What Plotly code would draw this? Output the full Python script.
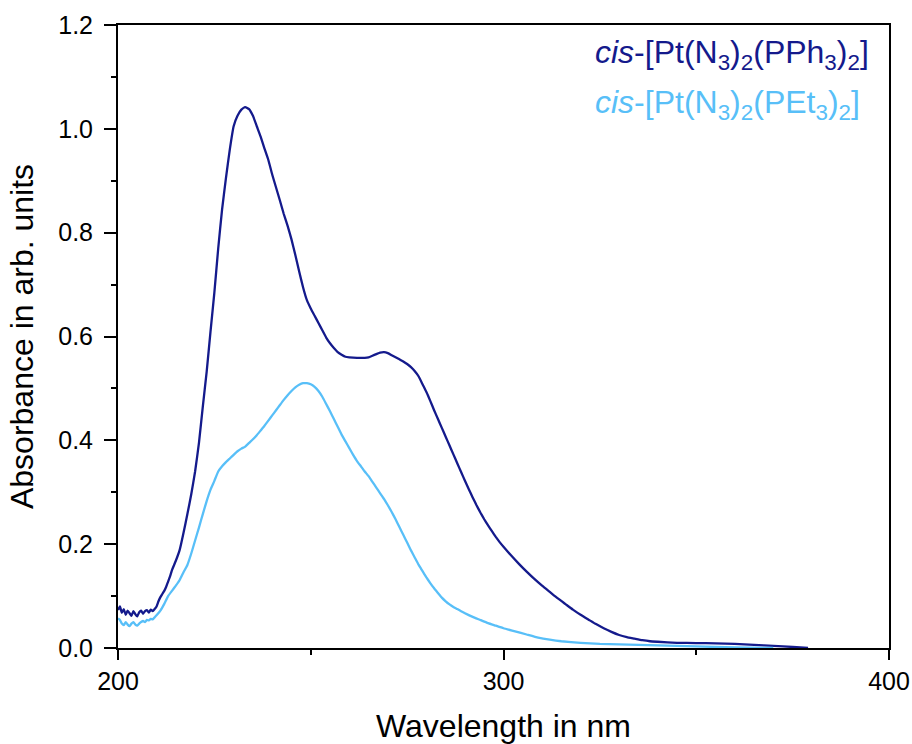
import plotly.graph_objects as go

# Wavelength (nm) and absorbance for cis-[Pt(N3)2(PPh3)2]
wl_pph3 = [200.0, 200.5, 201.0, 201.5, 202.0, 202.5, 203.0, 203.5, 204.0, 204.5,
           205.0, 205.5, 206.0, 206.5, 207.0, 207.5, 208.0, 208.5, 209.0, 209.5,
           210.0, 210.5, 211.0, 211.5, 212.0, 212.5, 213.0, 213.5, 214.0, 215.0,
           216.0, 217.0, 218.0, 219.0, 220.0, 221.0, 222.0, 223.0, 224.0, 225.0,
           226.0, 227.0, 228.0, 229.0, 230.0, 231.0, 232.0, 233.0, 234.0, 235.0,
           236.0, 237.0, 238.0, 239.0, 240.0, 241.0, 242.0, 243.0, 244.0, 245.0,
           246.0, 247.0, 248.0, 249.0, 250.0, 251.0, 252.0, 253.0, 254.0, 255.0,
           256.0, 257.0, 258.0, 259.0, 260.0, 262.0, 264.0, 265.0, 266.0, 267.0,
           268.0, 269.0, 270.0, 271.0, 272.0, 273.0, 274.0, 275.0, 276.0, 277.0,
           278.0, 279.0, 280.0, 281.0, 282.0, 283.0, 284.0, 285.0, 286.0, 287.0,
           288.0, 289.0, 290.0, 291.0, 292.0, 293.0, 294.0, 295.0, 296.0, 297.0,
           298.0, 299.0, 300.0, 302.0, 304.0, 306.0, 308.0, 310.0, 312.0, 314.0,
           316.0, 318.0, 320.0, 322.0, 324.0, 326.0, 328.0, 330.0, 332.0, 334.0,
           336.0, 338.0, 340.0, 345.0, 350.0, 355.0, 360.0, 365.0, 370.0, 375.0,
           379.0]
abs_pph3 = [0.073, 0.080, 0.068, 0.075, 0.064, 0.072, 0.067, 0.062, 0.071, 0.065,
            0.061, 0.069, 0.072, 0.066, 0.071, 0.073, 0.068, 0.074, 0.071, 0.075,
            0.080, 0.090, 0.098, 0.104, 0.110, 0.118, 0.128, 0.138, 0.150, 0.168,
            0.189, 0.222, 0.258, 0.296, 0.340, 0.395, 0.465, 0.532, 0.610, 0.685,
            0.770, 0.845, 0.905, 0.960, 1.005, 1.025, 1.037, 1.042, 1.038, 1.025,
            1.005, 0.985, 0.962, 0.940, 0.912, 0.887, 0.862, 0.836, 0.813, 0.787,
            0.757, 0.725, 0.695, 0.670, 0.654, 0.640, 0.626, 0.612, 0.598, 0.587,
            0.578, 0.570, 0.565, 0.561, 0.560, 0.559, 0.559, 0.560, 0.563, 0.566,
            0.569, 0.570, 0.568, 0.564, 0.560, 0.556, 0.552, 0.547, 0.541, 0.533,
            0.523, 0.508, 0.493, 0.476, 0.458, 0.441, 0.424, 0.407, 0.390, 0.373,
            0.356, 0.339, 0.322, 0.306, 0.290, 0.275, 0.261, 0.248, 0.236, 0.225,
            0.214, 0.204, 0.195, 0.178, 0.162, 0.147, 0.133, 0.120, 0.108, 0.096,
            0.085, 0.074, 0.064, 0.055, 0.046, 0.038, 0.031, 0.025, 0.021, 0.018,
            0.015, 0.013, 0.012, 0.010, 0.0095, 0.009, 0.008, 0.006, 0.004, 0.002,
            0.000]

# Wavelength (nm) and absorbance for cis-[Pt(N3)2(PEt3)2]
wl_pet3 = [200.0, 200.5, 201.0, 201.5, 202.0, 202.5, 203.0, 203.5, 204.0, 204.5,
           205.0, 205.5, 206.0, 206.5, 207.0, 207.5, 208.0, 208.5, 209.0, 209.5,
           210.0, 211.0, 212.0, 213.0, 214.0, 215.0, 216.0, 217.0, 218.0, 219.0,
           220.0, 221.0, 222.0, 223.0, 224.0, 225.0, 226.0, 227.0, 228.0, 229.0,
           230.0, 231.0, 232.0, 233.0, 234.0, 235.0, 236.0, 237.0, 238.0, 239.0,
           240.0, 241.0, 242.0, 243.0, 244.0, 245.0, 246.0, 247.0, 248.0, 249.0,
           250.0, 251.0, 252.0, 253.0, 254.0, 255.0, 256.0, 257.0, 258.0, 259.0,
           260.0, 261.0, 262.0, 263.0, 264.0, 265.0, 266.0, 267.0, 268.0, 269.0,
           270.0, 271.0, 272.0, 273.0, 274.0, 275.0, 276.0, 277.0, 278.0, 279.0,
           280.0, 281.0, 282.0, 283.0, 284.0, 285.0, 286.0, 287.0, 288.0, 289.0,
           290.0, 292.0, 294.0, 296.0, 298.0, 300.0, 303.0, 306.0, 309.0, 312.0,
           315.0, 320.0, 325.0, 330.0, 335.0, 340.0, 345.0, 350.0, 360.0, 370.0]
abs_pet3 = [0.057, 0.054, 0.047, 0.044, 0.050, 0.045, 0.042, 0.047, 0.050, 0.045,
            0.043, 0.047, 0.050, 0.052, 0.050, 0.054, 0.053, 0.056, 0.055, 0.059,
            0.063, 0.072, 0.085, 0.100, 0.110, 0.120, 0.131, 0.146, 0.160, 0.182,
            0.207, 0.232, 0.258, 0.283, 0.305, 0.322, 0.340, 0.350, 0.358, 0.365,
            0.372, 0.379, 0.384, 0.388, 0.395, 0.402, 0.410, 0.419, 0.428, 0.438,
            0.448, 0.458, 0.468, 0.478, 0.487, 0.495, 0.502, 0.507, 0.510, 0.510,
            0.508, 0.503, 0.495, 0.484, 0.470, 0.456, 0.441, 0.426, 0.411, 0.398,
            0.385, 0.372, 0.360, 0.350, 0.340, 0.331, 0.320, 0.309, 0.298, 0.287,
            0.275, 0.262, 0.248, 0.233, 0.218, 0.203, 0.188, 0.174, 0.160, 0.148,
            0.136, 0.125, 0.115, 0.106, 0.097, 0.090, 0.084, 0.079, 0.075, 0.071,
            0.067, 0.060, 0.054, 0.048, 0.043, 0.038, 0.032, 0.026, 0.020, 0.016,
            0.013, 0.010, 0.008, 0.007, 0.006, 0.005, 0.004, 0.003, 0.001, 0.000]

labels = ["<i>cis</i>-[Pt(N<sub>3</sub>)<sub>2</sub>(PPh<sub>3</sub>)<sub>2</sub>]",
          "<i>cis</i>-[Pt(N<sub>3</sub>)<sub>2</sub>(PEt<sub>3</sub>)<sub>2</sub>]"]
colors = ["#141a8c", "#58bff8"]
label_y = [0.953, 0.873]

FONT = "Liberation Sans, Arial, sans-serif"

fig = go.Figure()
fig.add_trace(go.Scatter(x=wl_pph3, y=abs_pph3, mode="lines",
                         line=dict(color=colors[0], width=2.3, shape="spline", smoothing=0.4),
                         name=labels[0], showlegend=False))
fig.add_trace(go.Scatter(x=wl_pet3, y=abs_pet3, mode="lines",
                         line=dict(color=colors[1], width=2.3, shape="spline", smoothing=0.4),
                         name=labels[1], showlegend=False))

for lab, col, yy in zip(labels, colors, label_y):
    fig.add_annotation(x=0.616, y=yy, xref="paper", yref="paper",
                       xanchor="left", yanchor="middle", showarrow=False,
                       text=lab, font=dict(family=FONT, size=32, color=col))

axis_common = dict(showline=True, linecolor="black", linewidth=2, mirror=True,
                   ticks="outside", tickcolor="black", tickwidth=2,
                   showgrid=False, zeroline=False, automargin=False,
                   tickfont=dict(family=FONT, size=25, color="black"))

fig.update_xaxes(range=[200, 400], dtick=100, tick0=200, ticklen=10,
                 minor=dict(dtick=50, ticklen=5, ticks="outside", tickcolor="black", tickwidth=2),
                 title=dict(text="Wavelength in nm", font=dict(family=FONT, size=32, color="black"),
                            standoff=23),
                 **axis_common)
fig.update_yaxes(range=[0, 1.2], dtick=0.2, tick0=0, ticklen=12, tickformat=".1f",
                 minor=dict(dtick=0.1, ticklen=5, ticks="outside", tickcolor="black", tickwidth=2),
                 title=dict(text="Absorbance in arb. units", font=dict(family=FONT, size=32, color="black"),
                            standoff=15),
                 ticklabelstandoff=6,
                 **axis_common)

fig.update_layout(width=912, height=744,
                  margin=dict(l=118, r=23, t=25, b=96, autoexpand=False),
                  plot_bgcolor="white", paper_bgcolor="white",
                  font=dict(family=FONT))

# remove the default page margin so the figure fills the 912x744 window exactly
fig.write_html("out.html",
               config={"displayModeBar": False},
               post_script="document.body.style.margin='0';document.body.style.overflow='hidden';")
